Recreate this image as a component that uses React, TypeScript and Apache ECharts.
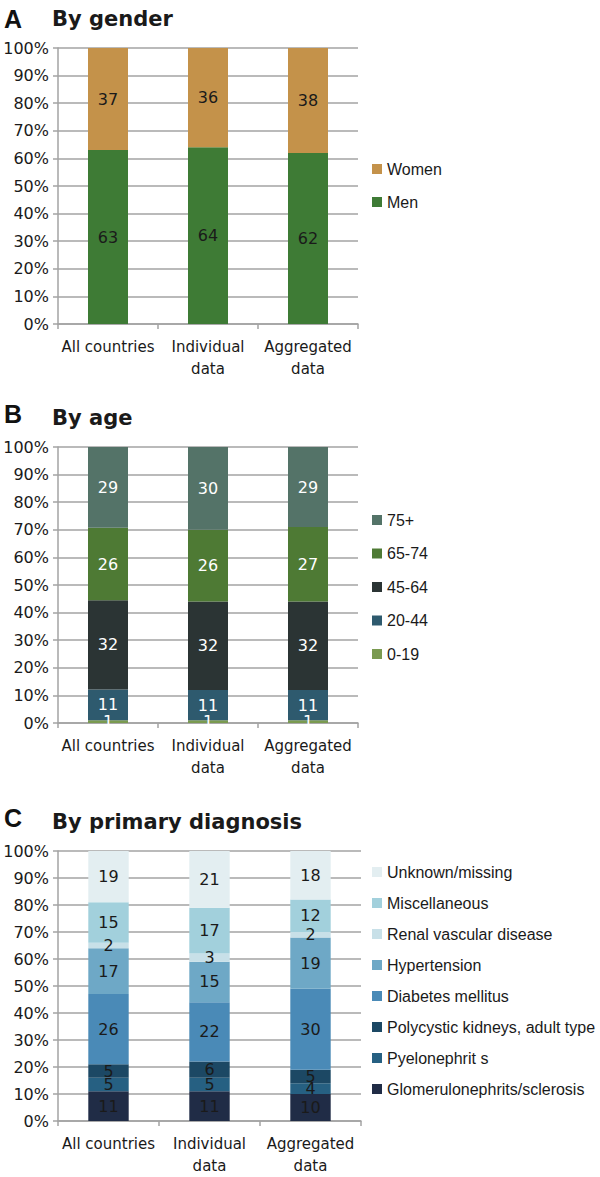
import React, { useEffect, useRef } from "react";
import * as echarts from "echarts";

const categories = ["All countries", "Individual\ndata", "Aggregated\ndata"];

// Panel A: by gender
const genderNames = ["Men", "Women"];
const men = [63, 64, 62];
const women = [37, 36, 38];

// Panel B: by age
const ageNames = ["0-19", "20-44", "45-64", "65-74", "75+"];
const age0to19 = [1, 1, 1];
const age20to44 = [11, 11, 11];
const age45to64 = [32, 32, 32];
const age65to74 = [26, 26, 27];
const age75plus = [29, 30, 29];

// Panel C: by primary diagnosis
const diagNames = [
  "Glomerulonephrits/sclerosis",
  "Pyelonephrit s",
  "Polycystic kidneys, adult type",
  "Diabetes mellitus",
  "Hypertension",
  "Renal vascular disease",
  "Miscellaneous",
  "Unknown/missing",
];
const glomerulo = [11, 11, 10];
const pyelo = [5, 5, 4];
const polycystic = [5, 6, 5];
const diabetes = [26, 22, 30];
const hypertension = [17, 15, 19];
const renalVascular = [2, 3, 2];
const miscellaneous = [15, 17, 12];
const unknownMissing = [19, 21, 18];

const FONT = '"DejaVu Sans", Verdana, sans-serif';
const LEGEND_FONT = '"Liberation Sans", Arial, sans-serif';
const GRID_COLOR = "#a3a3a3";

const genderColors = ["#3e7b35", "#c4924a"];
const ageColors = ["#7a9a50", "#2e5a6e", "#2b3434", "#4e7a34", "#547368"];
const diagColors = ["#202c46", "#266082", "#1c4864", "#4a8ab7", "#6ea8c6", "#c8e0e8", "#a2d0dc", "#e3eef1"];

function buildSeries(
  names: string[],
  values: number[][],
  colors: string[],
  idx: number,
  labelColor: string
) {
  const totals = categories.map((_, c) => values.reduce((s, arr) => s + arr[c], 0));
  return names.map((name, i) => ({
    type: "bar",
    name,
    stack: "s" + idx,
    xAxisIndex: idx,
    yAxisIndex: idx,
    barWidth: "40%",
    itemStyle: { color: colors[i] },
    label: {
      show: true,
      position: "inside",
      color: labelColor,
      fontFamily: FONT,
      fontSize: 16,
      formatter: (p: any) => String(p.data.raw),
    },
    data: values[i].map((v, c) => ({ value: (v * 100) / totals[c], raw: v })),
  }));
}

function xAxis(idx: number) {
  return {
    type: "category",
    gridIndex: idx,
    data: categories,
    axisLine: { lineStyle: { color: GRID_COLOR, width: 1.5 } },
    axisTick: { show: true, length: 5, lineStyle: { color: GRID_COLOR, width: 1.5 } },
    axisLabel: {
      color: "#1a1a1a",
      fontFamily: FONT,
      fontSize: 15,
      lineHeight: 22,
      margin: 12,
      interval: 0,
    },
  };
}

function yAxis(idx: number) {
  return {
    type: "value",
    gridIndex: idx,
    min: 0,
    max: 100,
    interval: 10,
    axisLine: { show: true, lineStyle: { color: GRID_COLOR, width: 1.5 } },
    axisTick: { show: true, length: 5, lineStyle: { color: GRID_COLOR, width: 1.5 } },
    splitLine: { show: true, lineStyle: { color: GRID_COLOR, width: 1.5 } },
    axisLabel: {
      formatter: "{value}%",
      color: "#1a1a1a",
      fontFamily: FONT,
      fontSize: 16,
      margin: 9,
    },
  };
}

function legend(names: string[], top: number, gap: number) {
  return {
    orient: "vertical",
    left: 367,
    top,
    itemWidth: 10,
    itemHeight: 10,
    itemGap: gap,
    icon: "rect",
    selectedMode: false,
    data: names.slice().reverse(),
    textStyle: { color: "#1a1a1a", fontFamily: LEGEND_FONT, fontSize: 16, lineHeight: 16 },
  };
}

function titleTexts(letter: string, text: string, yLetter: number, yText: number) {
  return [
    {
      type: "text",
      x: 4,
      y: yLetter,
      style: {
        text: letter,
        fill: "#111",
        font: 'bold 25px "Liberation Sans", Arial, sans-serif',
        verticalAlign: "middle",
      },
    },
    {
      type: "text",
      x: 52,
      y: yText,
      style: {
        text,
        fill: "#1a1a1a",
        font: 'bold 21px "DejaVu Sans", Verdana, sans-serif',
        verticalAlign: "middle",
      },
    },
  ];
}

export default function App() {
  const ref = useRef<HTMLDivElement>(null);
  useEffect(() => {
    document.body.style.margin = "0";
    if (!ref.current) return;
    const chart = echarts.init(ref.current, undefined, { renderer: "svg" });
    const option = {
      animation: false,
      backgroundColor: "#ffffff",
      grid: [
        { left: 58, top: 48, width: 300, height: 276 },
        { left: 58, top: 447, width: 300, height: 276 },
        { left: 58, top: 851, width: 303, height: 271 },
      ],
      xAxis: [xAxis(0), xAxis(1), xAxis(2)],
      yAxis: [yAxis(0), yAxis(1), yAxis(2)],
      legend: [
        legend(genderNames, 156, 17),
        legend(ageNames, 507, 17.5),
        legend(diagNames, 859, 15),
      ],
      graphic: [
        ...titleTexts("A", "By gender", 19, 19),
        ...titleTexts("B", "By age", 414, 418),
        ...titleTexts("C", "By primary diagnosis", 818, 822),
      ],
      series: [
        ...buildSeries(genderNames, [men, women], genderColors, 0, "#1a1a1a"),
        ...buildSeries(
          ageNames,
          [age0to19, age20to44, age45to64, age65to74, age75plus],
          ageColors,
          1,
          "#ffffff"
        ),
        ...buildSeries(
          diagNames,
          [glomerulo, pyelo, polycystic, diabetes, hypertension, renalVascular, miscellaneous, unknownMissing],
          diagColors,
          2,
          "#1a1a1a"
        ),
      ],
    };
    chart.setOption(option as any);
    return () => chart.dispose();
  }, []);
  return <div ref={ref} style={{ width: 600, height: 1177 }} />;
}
